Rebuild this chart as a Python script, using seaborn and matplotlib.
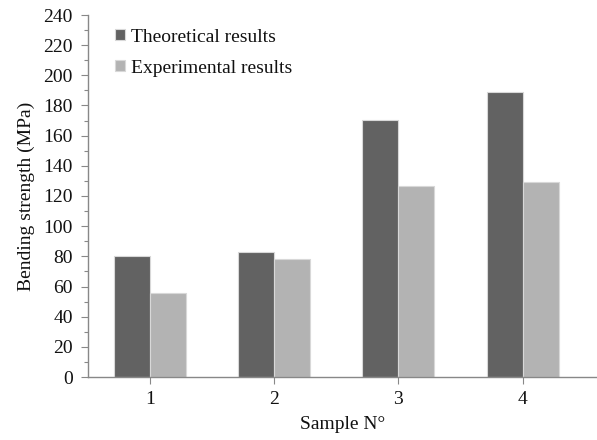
import matplotlib
matplotlib.use("Agg")
import matplotlib.pyplot as plt
import seaborn as sns
import pandas as pd
from matplotlib.ticker import MultipleLocator

samples = ["1", "2", "3", "4"]
theoretical = [80.3, 83.0, 170.5, 189.0]
experimental = [55.8, 78.0, 126.5, 129.5]
series_names = ["Theoretical results", "Experimental results"]

df = pd.DataFrame({
    "Sample": samples * 2,
    "Value": theoretical + experimental,
    "Series": [series_names[0]] * 4 + [series_names[1]] * 4,
})

sns.set_theme(style="white")
plt.rcParams["font.family"] = ["Liberation Serif", "DejaVu Serif"]
FONT = ["Liberation Serif", "DejaVu Serif"]

fig = plt.figure(figsize=(5.97, 4.40), dpi=100)
ax = fig.add_axes([88/597, 63/440, 509/597, 362/440])

sns.barplot(data=df, x="Sample", y="Value", hue="Series",
            palette=["#626262", "#b3b3b3"], width=0.58, ax=ax,
            saturation=1, legend=True)
for p in ax.patches:
    p.set_edgecolor("#d8d8d8")
    p.set_linewidth(0.8)

ax.set_xlim(-0.5, 3.6)
ax.set_ylim(0, 240)
ax.yaxis.set_major_locator(MultipleLocator(20))
ax.yaxis.set_minor_locator(MultipleLocator(10))
ax.tick_params(axis="y", which="major", length=5, width=0.8, color="#888888",
               labelsize=14, direction="out", left=True, pad=6)
ax.tick_params(axis="y", which="minor", length=3, width=0.8, color="#888888",
               direction="out", left=True)
ax.tick_params(axis="x", length=5, width=0.8, color="#888888", labelsize=14,
               direction="out", bottom=True, pad=5)
for lab in ax.get_xticklabels() + ax.get_yticklabels():
    lab.set_fontfamily(FONT)
    lab.set_color("#111111")
for s in ["top", "right"]:
    ax.spines[s].set_visible(False)
for s in ["left", "bottom"]:
    ax.spines[s].set_color("#888888")
    ax.spines[s].set_linewidth(1.0)

ax.set_xlabel("Sample N°", fontsize=14, labelpad=6, fontfamily=FONT, color="#111111")
ax.set_ylabel("Bending strength (MPa)", fontsize=14, labelpad=6, fontfamily=FONT, color="#111111")

leg = ax.legend(loc="upper left", bbox_to_anchor=(0.018, 1.011), frameon=False,
                prop={"family": FONT, "size": 14}, handlelength=0.55, handleheight=0.55,
                handletextpad=0.3, labelspacing=0.72)
for t in leg.get_texts():
    t.set_color("#111111")

fig.savefig("out.png", dpi=100)
